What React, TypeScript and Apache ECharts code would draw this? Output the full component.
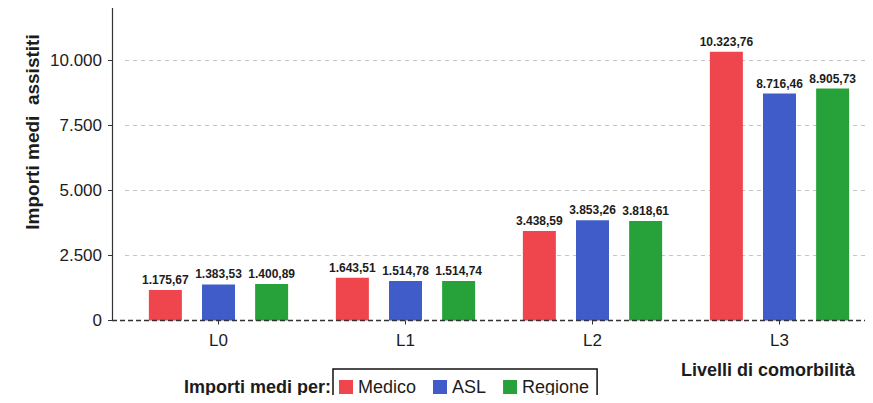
import React, { useEffect, useRef } from "react";
import * as echarts from "echarts";

// Comorbidity levels on the x axis
const categories = ["L0", "L1", "L2", "L3"];

// Average amounts per assisted patient, by payer
const medicoValues = [1175.67, 1643.51, 3438.59, 10323.76];
const aslValues = [1383.53, 1514.78, 3853.26, 8716.46];
const regioneValues = [1400.89, 1514.74, 3818.61, 8905.73];

// Labelled y ticks
const yTicks = [0, 2500, 5000, 7500, 10000];

const seriesNames = ["Medico", "ASL", "Regione"];
const seriesColors = ["#EE464C", "#3F5CC8", "#27A23B"];

const FONT = "'Liberation Sans', Arial, sans-serif";
const TEXT = "#1c1c1c";

const fmtIt = (v: number, decimals: number) =>
  v.toLocaleString("it-IT", {
    minimumFractionDigits: decimals,
    maximumFractionDigits: decimals,
    useGrouping: "always" as any,
  });

export default function App() {
  const ref = useRef<HTMLDivElement>(null);

  useEffect(() => {
    if (!ref.current) return;
    const chart = echarts.init(ref.current, undefined, { renderer: "svg" });
    const data = [medicoValues, aslValues, regioneValues];

    chart.setOption({
      animation: false,
      textStyle: { fontFamily: FONT },
      grid: { left: 125, top: 8, width: 751, bottom: 82.5, containLabel: false },
      legend: {
        left: 333,
        top: 369,
        orient: "horizontal",
        itemWidth: 14,
        itemHeight: 14,
        itemGap: 17,
        padding: [9, 8, 24, 6],
        borderColor: "#111",
        borderWidth: 1.5,
        icon: "rect",
        textStyle: { fontSize: 18, color: TEXT, fontFamily: FONT },
        data: seriesNames,
      },
      xAxis: {
        type: "category",
        data: categories,
        axisLine: { show: false },
        axisTick: { show: true, alignWithLabel: true, length: 4, lineStyle: { color: "#333" } },
        axisLabel: { fontSize: 17, color: TEXT, margin: 11, fontFamily: FONT },
        splitLine: { show: false },
      },
      yAxis: {
        type: "value",
        min: 0,
        max: 12000,
        offset: 13,
        axisLine: { show: true, lineStyle: { color: "#333", width: 1.2 } },
        axisTick: { show: true, length: 4, customValues: yTicks, lineStyle: { color: "#333" } },
        axisLabel: {
          customValues: yTicks,
          fontSize: 17,
          color: TEXT,
          margin: 10,
          fontFamily: FONT,
          formatter: (v: number) => fmtIt(v, 0),
        },
        splitLine: { show: false },
      },
      series: seriesNames.map((name, i) => ({
        name,
        type: "bar",
        data: data[i],
        barWidth: 33,
        barGap: "61%",
        itemStyle: { color: seriesColors[i] },
        label: {
          show: true,
          position: "top",
          distance: 4,
          fontSize: 12,
          fontWeight: "bold",
          color: TEXT,
          fontFamily: FONT,
          formatter: (p: any) => fmtIt(p.value, 2),
        },
        markLine:
          i === 0
            ? {
                silent: true,
                symbol: "none",
                label: { show: false },
                lineStyle: { color: "#c4c4c4", type: [4, 4], width: 1 },
                data: yTicks.filter((t) => t > 0).map((t) => ({ yAxis: t })),
                z: 0,
              }
            : undefined,
      })),
    });

    // baseline and titles placed from the axes' own pixel positions
    const y0 = chart.convertToPixel({ yAxisIndex: 0 }, 0) as number;
    chart.setOption({
      graphic: [
        {
          type: "line",
          shape: { x1: 112, y1: y0, x2: 870, y2: y0 },
          style: { stroke: "#333", lineWidth: 1.3, lineDash: [5, 3] },
          z: 10,
        },
        {
          type: "text",
          x: 32,
          y: 132,
          rotation: Math.PI / 2,
          style: {
            text: "Importi medi  assistiti",
            fontSize: 19,
            fontWeight: "bold",
            fill: TEXT,
            fontFamily: FONT,
            align: "center",
            verticalAlign: "middle",
          },
        },
        {
          type: "text",
          x: 768,
          y: 370,
          style: {
            text: "Livelli di comorbilità",
            fontSize: 18,
            fontWeight: "bold",
            fill: TEXT,
            fontFamily: FONT,
            align: "center",
            verticalAlign: "middle",
          },
        },
        {
          type: "text",
          x: 331,
          y: 387,
          style: {
            text: "Importi medi per:",
            fontSize: 18,
            fontWeight: "bold",
            fill: TEXT,
            fontFamily: FONT,
            align: "right",
            verticalAlign: "middle",
          },
        },
      ],
    });

    return () => chart.dispose();
  }, []);

  return <div ref={ref} style={{ width: 873, height: 403, margin: -8, background: "#fff" }} />;
}
